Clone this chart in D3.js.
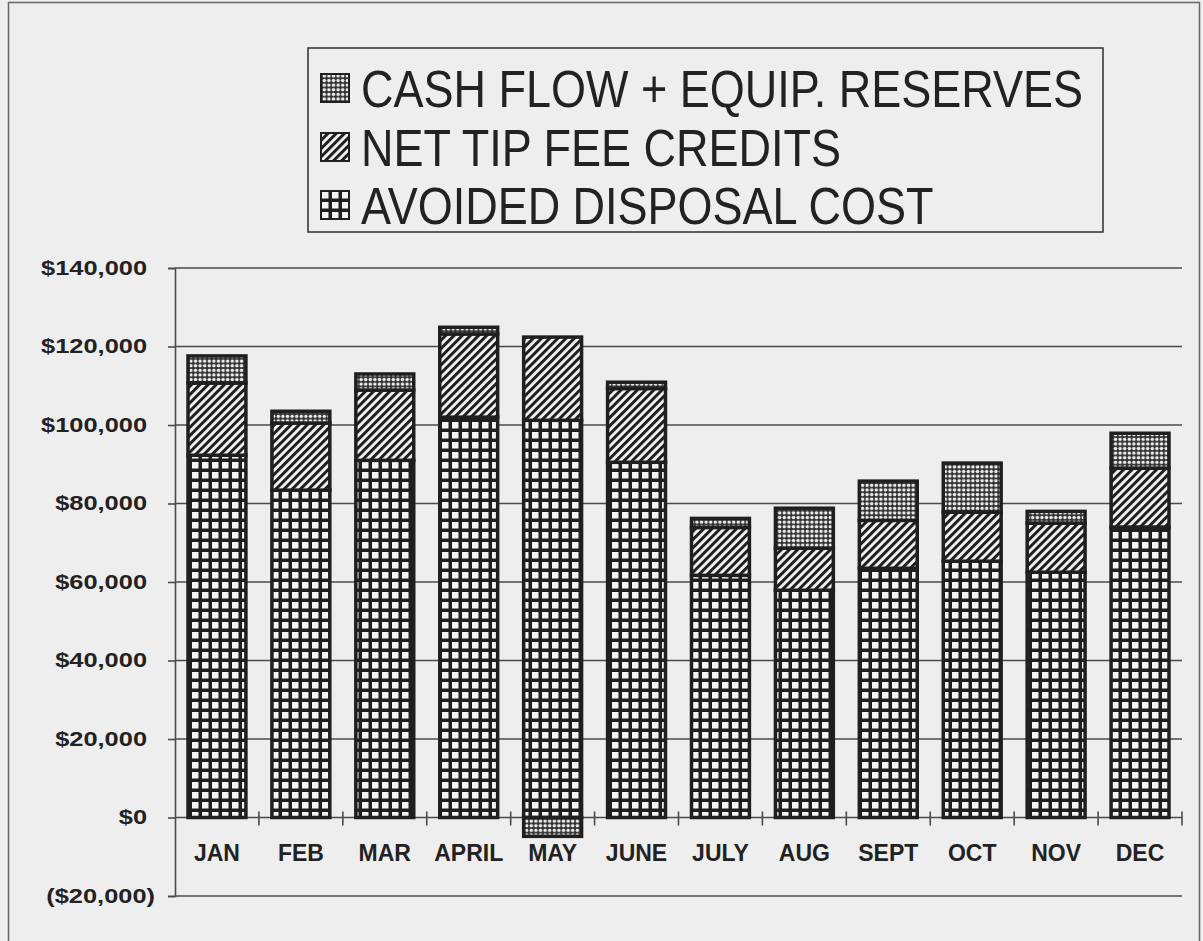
<!DOCTYPE html>
<html><head><meta charset="utf-8">
<script src="https://cdn.jsdelivr.net/npm/d3@7"></script>
<style>
html,body{margin:0;padding:0;background:#eeeeee;}
svg{display:block;}
text{font-family:"Liberation Sans",Arial,sans-serif;fill:#222;}
</style></head>
<body>
<svg id="chart" width="1203" height="941"></svg>
<script>
const months = ["JAN","FEB","MAR","APRIL","MAY","JUNE","JULY","AUG","SEPT","OCT","NOV","DEC"];
const avoidedDisposal = [92300, 83400, 91000, 102000, 101200, 90500, 61700, 57900, 63500, 65300, 62500, 74000];
const netTipFeeCredits = [18400, 17100, 17900, 21200, 21200, 18800, 12200, 10700, 12200, 12500, 12500, 15000];
const cashFlowReserves = [6900, 3000, 4100, 1700, -4800, 1600, 2300, 10200, 10000, 12500, 3000, 8900];
const yTickValues = [-20000, 0, 20000, 40000, 60000, 80000, 100000, 120000, 140000];
const yTickLabels = ["($20,000)", "$0", "$20,000", "$40,000", "$60,000", "$80,000", "$100,000", "$120,000", "$140,000"];
const seriesKeys = ["avoided", "tip", "cash"];
const legendLabels = ["CASH FLOW + EQUIP. RESERVES", "NET TIP FEE CREDITS", "AVOIDED DISPOSAL COST"];
const legendKeys = ["cash", "tip", "avoided"];

const ink = "#1f1f1f";
const svg = d3.select("#chart");
svg.append("rect").attr("width",1203).attr("height",941).attr("fill","#eeeeee");
svg.append("rect").attr("x",8.5).attr("y",2.5).attr("width",1191).attr("height",980)
  .attr("fill","none").attr("stroke","#666").attr("stroke-width",1.5);

// patterns
const defs = svg.append("defs");
const pg = defs.append("pattern").attr("id","p-avoided").attr("patternUnits","userSpaceOnUse")
  .attr("width",10).attr("height",10);
pg.append("rect").attr("width",10).attr("height",10).attr("fill",ink);
pg.append("rect").attr("x",2).attr("y",2).attr("width",6.5).attr("height",6.5).attr("fill","#f4f4f4");

const pt = defs.append("pattern").attr("id","p-tip").attr("patternUnits","userSpaceOnUse")
  .attr("width",5.8).attr("height",5.8).attr("patternTransform","rotate(45)");
pt.append("rect").attr("width",5.8).attr("height",5.8).attr("fill","#f4f4f4");
pt.append("rect").attr("width",3).attr("height",5.8).attr("fill",ink);

const pc = defs.append("pattern").attr("id","p-cash").attr("patternUnits","userSpaceOnUse")
  .attr("width",4.6).attr("height",4.6);
pc.append("rect").attr("width",4.6).attr("height",4.6).attr("fill","#333");
pc.append("circle").attr("cx",2.3).attr("cy",2.3).attr("r",1.7).attr("fill","#f0f0f0");

const fillFor = {avoided:"url(#p-avoided)", tip:"url(#p-tip)", cash:"url(#p-cash)"};

// scales
const left = 175, right = 1182;
const x = d3.scaleBand().domain(months).range([left, right]).paddingInner(0.31).paddingOuter(0.155);
const y = d3.scaleLinear().domain([-20000, 140000]).range([896, 268]);

// gridlines
svg.append("g").selectAll("line").data(yTickValues).join("line")
  .attr("x1", left).attr("x2", right)
  .attr("y1", d => y(d)).attr("y2", d => y(d))
  .attr("stroke", "#4a4a4a").attr("stroke-width", 1.6);

// y axis
const labelMap = new Map(yTickValues.map((v,i)=>[v,yTickLabels[i]]));
const yAxis = svg.append("g").attr("transform", `translate(${left},0)`)
  .call(d3.axisLeft(y).tickValues(yTickValues).tickSize(7).tickPadding(21).tickFormat(d => labelMap.get(d)));
yAxis.select(".domain").attr("stroke","#4a4a4a").attr("stroke-width",1.6);
yAxis.selectAll(".tick line").attr("stroke","#4a4a4a").attr("stroke-width",1.6);
yAxis.selectAll(".tick text")
  .attr("font-family","'Liberation Sans',Arial,sans-serif")
  .attr("font-size",20).attr("font-weight","bold").attr("fill","#2a2a2a")
  .attr("dx", d => d < 0 ? 8 : 0)
  .each(function(){
    const w = this.getComputedTextLength();
    d3.select(this).attr("textLength", w*1.27).attr("lengthAdjust","spacingAndGlyphs");
  });

// stacked data
const rows = months.map((m,i)=>({month:m, avoided:avoidedDisposal[i], tip:netTipFeeCredits[i], cash:cashFlowReserves[i]}));
const stacked = d3.stack().keys(seriesKeys).offset(d3.stackOffsetDiverging)(rows);

const barG = svg.append("g");
stacked.forEach(layer => {
  barG.append("g").selectAll("rect").data(layer).join("rect")
    .attr("x", d => x(d.data.month))
    .attr("width", x.bandwidth())
    .attr("y", d => y(Math.max(d[0], d[1])))
    .attr("height", d => Math.abs(y(d[0]) - y(d[1])))
    .attr("fill", fillFor[layer.key])
    .attr("stroke", ink).attr("stroke-width", 3.5);
});

// x ticks on zero line
const boundaries = months.map(m => x(m) + x.bandwidth() + x.step()*x.paddingInner()/2);
svg.append("g").selectAll("line").data(boundaries).join("line")
  .attr("x1", d => d).attr("x2", d => d)
  .attr("y1", y(0) - 6).attr("y2", y(0) + 8)
  .attr("stroke","#4a4a4a").attr("stroke-width",1.6);

// category labels
svg.append("g").selectAll("text").data(months).join("text")
  .attr("x", d => x(d) + x.bandwidth()/2)
  .attr("y", 861)
  .attr("text-anchor","middle")
  .attr("font-size",23).attr("font-weight","bold").attr("fill","#2a2a2a")
  .text(d => d);

// legend
const lg = svg.append("g");
lg.append("rect").attr("x",308).attr("y",48).attr("width",795).attr("height",184)
  .attr("fill","#eeeeee").attr("stroke","#3a3a3a").attr("stroke-width",1.6);
const rowY = [88, 147, 205];
legendKeys.forEach((k,i)=>{
  lg.append("rect").attr("x",321).attr("y",rowY[i]-14).attr("width",28).attr("height",28)
    .attr("fill",fillFor[k]).attr("stroke",ink).attr("stroke-width",2);
  const t = lg.append("text").attr("x",361).attr("y",rowY[i]+19)
    .attr("font-size",52).attr("fill","#222").text(legendLabels[i]);
  const w = t.node().getComputedTextLength();
  t.attr("textLength", w*0.865).attr("lengthAdjust","spacingAndGlyphs");
});
</script>
</body></html>
